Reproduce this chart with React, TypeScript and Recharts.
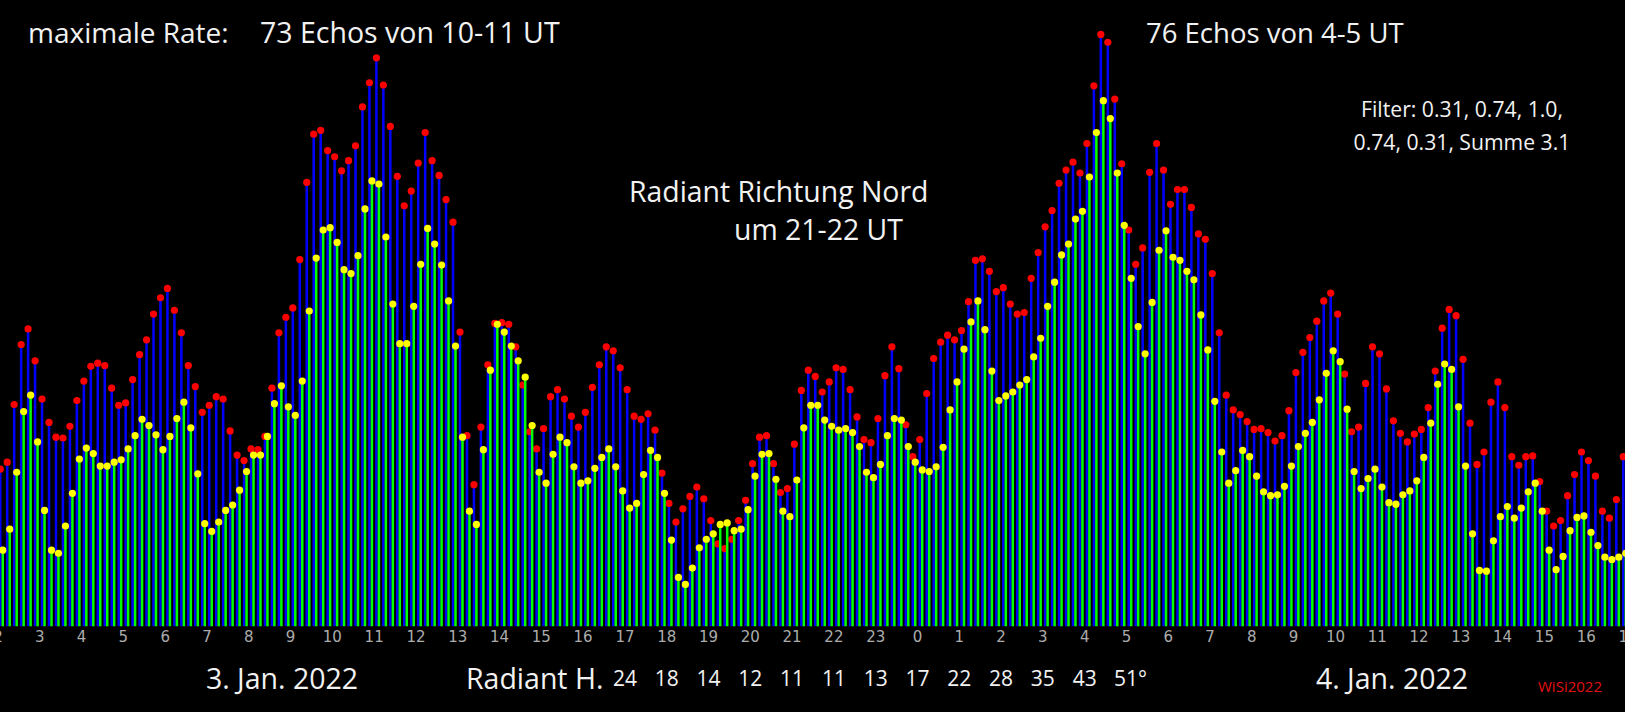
import { BarChart, Bar, XAxis, YAxis } from "recharts";

// Meteor echo rate (echoes per hour), 10-minute steps,
// 3 Jan 2022 02:00 UT .. 4 Jan 2022 17:00 UT
const rawRate = [
  20.2, 21.1, 28.5, 36.2, 38.2, 34.1, 29.2, 26.2, 24.3, 24.2, 25.7, 29.0,
  31.5, 33.4, 33.8, 33.5, 30.6, 28.4, 28.7, 31.7, 34.9, 36.8, 40.1, 42.2,
  43.4, 40.6, 37.7, 33.5, 30.8, 27.5, 28.4, 29.5, 29.2, 25.1, 22.0, 21.3,
  22.8, 22.7, 24.4, 30.6, 37.7, 39.7, 40.9, 47.1, 57.0, 63.2, 63.7, 61.1,
  60.3, 58.5, 59.8, 61.7, 66.7, 69.8, 73.0, 69.5, 64.2, 57.8, 54.0, 55.9,
  59.5, 63.4, 59.8, 57.9, 54.8, 51.9, 37.8, 24.5, 18.2, 25.6, 33.6, 38.9,
  39.0, 38.8, 35.9, 31.0, 25.0, 22.8, 25.4, 29.5, 30.4, 29.2, 27.0, 25.6,
  27.5, 30.7, 33.6, 35.9, 35.4, 33.2, 30.4, 27.0, 26.6, 27.3, 25.2, 19.7,
  15.8, 13.4, 15.1, 16.7, 17.9, 16.4, 13.6, 10.6, 10.0, 11.2, 13.6, 16.2,
  20.9, 24.3, 24.5, 20.9, 17.2, 17.7, 23.4, 30.3, 32.9, 32.1, 30.1, 31.4,
  33.2, 33.0, 30.4, 26.9, 24.0, 23.6, 26.7, 32.2, 35.9, 33.1, 25.9, 21.8,
  24.0, 29.9, 34.4, 36.5, 37.4, 36.8, 38.0, 41.7, 47.0, 47.2, 45.6, 43.0,
  43.5, 41.4, 40.1, 40.3, 44.7, 48.0, 51.3, 53.4, 56.9, 58.6, 59.6, 58.2,
  62.0, 69.4, 76.0, 75.0, 67.7, 59.4, 50.9, 46.5, 48.6, 58.3, 62.0, 58.6,
  54.2, 56.1, 56.1, 53.8, 50.4, 49.7, 45.3, 37.7, 29.7, 27.8, 27.2, 26.3,
  25.3, 25.4, 24.9, 23.8, 24.5, 27.7, 32.6, 35.2, 37.1, 39.2, 41.8, 42.8,
  40.1, 32.4, 25.0, 25.6, 31.2, 35.9, 35.0, 30.5, 26.4, 24.8, 23.7, 24.7,
  25.3, 28.1, 32.8, 38.3, 40.7, 39.9, 34.3, 26.1, 20.8, 22.4, 28.8, 31.4,
  28.1, 21.8, 20.7, 21.8, 21.9, 18.6, 14.8, 12.9, 13.6, 16.8, 19.5, 22.4,
  21.3, 19.3, 14.8, 13.9, 16.3, 21.8,
];

// same rate after the 5-point filter (0.31, 0.74, 1.0, 0.74, 0.31)
const filteredRate = [
  9.8, 12.5, 19.8, 27.6, 29.7, 23.7, 14.9, 9.8, 9.4, 12.9, 17.1, 21.5,
  22.9, 22.2, 20.6, 20.6, 21.1, 21.4, 22.8, 24.5, 26.6, 25.8, 24.6, 22.7,
  24.4, 26.7, 28.8, 25.5, 19.6, 13.2, 12.2, 13.4, 14.9, 15.6, 17.5, 19.9,
  22.0, 22.0, 24.4, 28.6, 30.9, 28.2, 27.1, 31.5, 40.5, 47.3, 50.9, 51.2,
  49.3, 45.8, 45.3, 47.6, 53.6, 57.2, 56.8, 50.0, 41.4, 36.3, 36.3, 41.1,
  46.5, 51.1, 49.1, 46.4, 41.8, 36.0, 24.3, 14.8, 13.1, 22.7, 32.9, 38.8,
  37.8, 36.0, 34.1, 32.0, 25.8, 19.8, 18.4, 22.1, 24.3, 23.6, 20.5, 18.4,
  18.7, 20.3, 21.7, 22.8, 20.5, 17.4, 15.2, 15.8, 19.5, 22.6, 21.7, 17.1,
  11.1, 6.3, 5.4, 7.5, 10.1, 11.2, 11.9, 13.1, 13.3, 12.3, 12.5, 15.0,
  19.3, 22.1, 22.2, 18.9, 14.8, 14.1, 18.8, 25.5, 28.4, 28.4, 26.5, 25.7,
  25.2, 25.4, 24.9, 23.1, 19.8, 19.1, 20.8, 24.5, 26.7, 26.5, 23.1, 21.1,
  20.1, 19.9, 20.5, 23.0, 27.8, 31.4, 35.6, 39.1, 41.8, 38.1, 32.8, 29.0,
  29.6, 30.1, 31.0, 31.7, 34.6, 37.0, 41.1, 44.2, 47.7, 49.1, 52.3, 53.3,
  57.7, 63.4, 67.5, 65.2, 58.2, 51.5, 44.7, 38.5, 35.0, 41.6, 48.3, 50.8,
  47.4, 47.0, 45.6, 44.5, 40.0, 35.5, 28.9, 22.4, 18.4, 20.0, 22.6, 21.8,
  19.3, 17.3, 16.8, 16.9, 18.0, 20.6, 23.1, 24.8, 26.2, 29.1, 32.5, 35.4,
  34.0, 27.9, 19.9, 17.7, 19.0, 20.2, 17.9, 15.9, 15.7, 16.9, 17.4, 18.7,
  21.7, 26.1, 31.1, 33.7, 33.0, 28.2, 20.6, 11.9, 7.2, 7.1, 11.0, 14.1,
  15.4, 13.9, 15.2, 17.3, 18.4, 14.8, 9.8, 7.3, 9.0, 12.3, 14.0, 14.2,
  12.1, 10.4, 8.9, 8.6, 8.9, 9.4,
];

const START_HOUR = 2;
const STEPS_PER_HOUR = 6;

// radiant elevation below the hour axis
const radiantHours = [17, 18, 19, 20, 21, 22, 23, 0, 1, 2, 3, 4, 5];
const radiantHeights = ["24", "18", "14", "12", "11", "11", "13", "17", "22", "28", "35", "43", "51°"];

const CHART_W = 1630;
const CHART_H = 712;
const N = rawRate.length;
const BAND = CHART_W / N;

const data = rawRate.map((v, i) => ({ i, raw: v, filtered: filteredRate[i] }));

// boundary index (in steps) -> radiant label
const radiantAt: Record<number, string> = {};
{
  let dayOffset = 0;
  let prev = -1;
  radiantHours.forEach((h, k) => {
    if (h < prev) dayOffset += 24;
    prev = h;
    radiantAt[(h + dayOffset - START_HOUR) * STEPS_PER_HOUR] = radiantHeights[k];
  });
}

const Stem = (color: string, dotColor: string) => (props: any) => {
  const { x, y, width, height } = props;
  if (height == null || isNaN(height)) return <g />;
  return (
    <g>
      <rect x={x} y={y} width={width} height={height} fill={color} />
      <circle cx={x + width / 2} cy={y} r={3.6} fill={dotColor} />
    </g>
  );
};

function boundaryLabels(bx: number, b: number) {
  const hour = (START_HOUR + b / STEPS_PER_HOUR) % 24;
  const rad = radiantAt[b];
  return (
    <g key={b}>
      <text x={bx} y={642} textAnchor="middle" fill="#acacac" fontSize={15} fontFamily="DejaVu Sans">
        {hour}
      </text>
      {rad && (
        <text
          x={rad.endsWith("°") ? bx + 4 : bx}
          y={685.5}
          textAnchor="middle"
          fill="#f2f2f2"
          fontSize={21}
          fontFamily="Open Sans"
        >
          {rad}
        </text>
      )}
    </g>
  );
}

function HourTick(props: any) {
  const { x, payload } = props;
  const i = payload.value as number;
  const out = [];
  if (i % STEPS_PER_HOUR === 0) out.push(boundaryLabels(x - BAND / 2, i));
  if (i === N - 1) out.push(boundaryLabels(x + BAND / 2, N));
  return <g>{out}</g>;
}

const txt = { fill: "#f2f2f2", fontFamily: "Open Sans" };

export default function App() {
  return (
    <div style={{ position: "fixed", left: 0, top: 0, width: 1625, height: 712, background: "#000", overflow: "hidden" }}>
      <div style={{ position: "absolute", left: -2, top: 0 }}>
        <BarChart
          width={CHART_W}
          height={CHART_H}
          data={data}
          margin={{ top: 3.3, right: 0, bottom: 0, left: 0 }}
          barGap={0}
        >
          <XAxis
            dataKey="i"
            height={85.5}
            interval={0}
            tickLine={false}
            axisLine={false}
            tick={HourTick}
          />
          <YAxis hide domain={[0, 80]} allowDataOverflow />
          <Bar dataKey="raw" barSize={2.5} fill="#0000ff" isAnimationActive={false} shape={Stem("#0000ff", "#ff0000")} />
          <Bar dataKey="filtered" barSize={2.5} fill="#00ff00" isAnimationActive={false} shape={Stem("#00ff00", "#ffff00")} />
        </BarChart>
      </div>
      <svg width={1625} height={712} style={{ position: "absolute", left: 0, top: 0, pointerEvents: "none" }}>
        <text x={28} y={42.5} fontSize={28} {...txt}>maximale Rate:</text>
        <text x={260} y={42.5} fontSize={28.5} {...txt}>73 Echos von 10-11 UT</text>
        <text x={1146} y={42.5} fontSize={27.5} {...txt}>76 Echos von 4-5 UT</text>
        <text x={1462} y={116.5} fontSize={21.2} textAnchor="middle" {...txt}>Filter: 0.31, 0.74, 1.0,</text>
        <text x={1462} y={149.5} fontSize={21.2} textAnchor="middle" {...txt}>0.74, 0.31, Summe 3.1</text>
        <text x={629} y={202} fontSize={28.4} {...txt}>Radiant Richtung Nord</text>
        <text x={734} y={240} fontSize={28.4} {...txt}>um 21-22 UT</text>
        <text x={282} y={689} fontSize={28.5} textAnchor="middle" {...txt}>3. Jan. 2022</text>
        <text x={466} y={689} fontSize={28.5} {...txt}>Radiant H.</text>
        <text x={1392} y={689} fontSize={28.5} textAnchor="middle" {...txt}>4. Jan. 2022</text>
        <text x={1570} y={692} fontSize={15} textAnchor="middle" fill="#e01010" fontFamily="Open Sans">WiSi2022</text>
      </svg>
    </div>
  );
}
